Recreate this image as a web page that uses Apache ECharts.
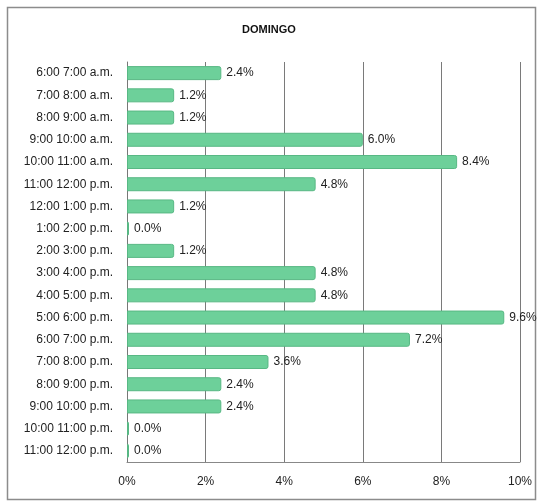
<!DOCTYPE html>
<html><head><meta charset="utf-8">
<script src="https://cdn.jsdelivr.net/npm/echarts@6/dist/echarts.min.js"></script>
<style>html,body{margin:0;padding:0;background:#fff}#c{width:538px;height:501px}</style>
</head><body><div id="c"></div>
<script>
const categories = ["6:00 7:00 a.m.","7:00 8:00 a.m.","8:00 9:00 a.m.","9:00 10:00 a.m.","10:00 11:00 a.m.","11:00 12:00 p.m.","12:00 1:00 p.m.","1:00 2:00 p.m.","2:00 3:00 p.m.","3:00 4:00 p.m.","4:00 5:00 p.m.","5:00 6:00 p.m.","6:00 7:00 p.m.","7:00 8:00 p.m.","8:00 9:00 p.m.","9:00 10:00 p.m.","10:00 11:00 p.m.","11:00 12:00 p.m."];
const values = [2.4,1.2,1.2,6.0,8.4,4.8,1.2,0.0,1.2,4.8,4.8,9.6,7.2,3.6,2.4,2.4,0.0,0.0];
const xTicks = {min:0,max:10,interval:2};
const titleText = "DOMINGO";

const chart = echarts.init(document.getElementById('c'));
const font = "'Liberation Sans', Arial, sans-serif";
chart.setOption({
  animation:false,
  title:{text:titleText,left:'center',top:19,textStyle:{fontFamily:font,fontSize:11,fontWeight:'bold',color:'#111'}},
  graphic:[{type:'rect',shape:{x:7.5,y:7.5,width:528,height:492},style:{fill:'none',stroke:'#8c8c8c',lineWidth:1.5},silent:true}],
  grid:{left:127,right:18,top:62,bottom:39,containLabel:false},
  xAxis:{type:'value',min:xTicks.min,max:xTicks.max,interval:xTicks.interval,
    axisLabel:{formatter:'{value}%',fontFamily:font,fontSize:12,color:'#222',margin:14},
    axisLine:{show:true,lineStyle:{color:'#888'}},axisTick:{show:false},
    splitLine:{show:true,lineStyle:{color:'#7a7a7a',width:1}}},
  yAxis:{type:'category',data:categories,inverse:true,
    axisLabel:{fontFamily:font,fontSize:12,color:'#222',margin:14},
    axisLine:{show:true,lineStyle:{color:'#777'}},axisTick:{show:false}},
  series:[{type:'bar',data:values,barWidth:14,barMinHeight:2,
    itemStyle:{color:'#6dd09a',borderColor:'#58b884',borderWidth:1,borderRadius:[0,2,2,0]},
    label:{show:true,position:'right',distance:5,fontFamily:font,fontSize:12,color:'#222',
      formatter:p=>p.value.toFixed(1)+'%'}}]
});
</script></body></html>
